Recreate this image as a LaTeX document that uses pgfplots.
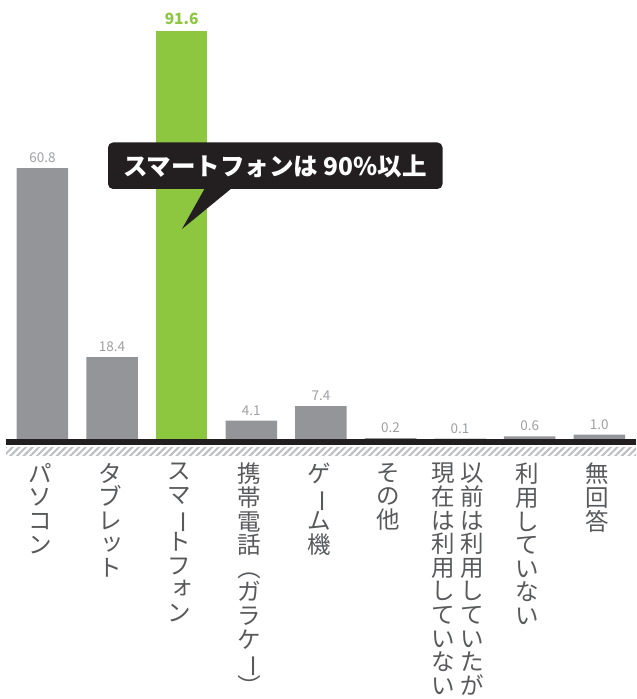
\documentclass[border=0pt]{standalone}
\usepackage{fontspec}
\setmainfont{Noto Sans CJK JP}
\usepackage{graphicx}
\usepackage{pgfplots}
\pgfplotsset{compat=1.18}
\usetikzlibrary{patterns.meta}
\definecolor{bargray}{HTML}{939598}
\definecolor{bargreen}{HTML}{8DC63F}
\definecolor{valgray}{HTML}{9D9FA2}
\definecolor{labelgray}{HTML}{58595B}
\definecolor{hatchgray}{HTML}{BCBEC0}
\definecolor{calloutblack}{HTML}{231F20}
% vertical-writing helpers
\newcommand\LV{\rotatebox[origin=c]{-90}{ー}}
\newcommand\LP{\rotatebox[origin=c]{-90}{（}}
\newcommand\RP{\rotatebox[origin=c]{-90}{）}}
\newcommand\SK[1]{\smash{\raisebox{0.13em}{\hspace*{0.2em}#1}}}
\newcommand\VC[1]{\vbox{\baselineskip=23.6pt\lineskiplimit=-100pt\lineskip=0pt\halign{\hfil##\hfil\cr#1\crcr}}}
\newcommand\LA{\VC{パ\cr ソ\cr コ\cr ン}}
\newcommand\LB{\VC{タ\cr ブ\cr レ\cr \SK{ッ}\cr ト}}
\newcommand\LC{\VC{ス\cr マ\cr \LV\cr ト\cr フ\cr \SK{ォ}\cr ン}}
\newcommand\LD{\VC{携\cr 帯\cr 電\cr 話\cr \LP\cr ガ\cr ラ\cr ケ\cr \LV\cr \RP}}
\newcommand\LE{\VC{ゲ\cr \LV\cr ム\cr 機}}
\newcommand\LF{\VC{そ\cr の\cr 他}}
\newcommand\LG{\vbox{\baselineskip=23.6pt\lineskiplimit=-100pt\lineskip=0pt\halign{\hfil##\hfil&\hskip5.5pt\hfil##\hfil\cr
現&以\cr 在&前\cr は&は\cr 利&利\cr 用&用\cr し&し\cr て&て\cr い&い\cr な&た\cr い&が\crcr}}}
\newcommand\LH{\VC{利\cr 用\cr し\cr て\cr い\cr な\cr い}}
\newcommand\LI{\VC{無\cr 回\cr 答}}
\begin{document}
\begin{tikzpicture}
\begin{axis}[
  scale only axis, width=630pt, height=439pt,
  xmin=-0.524, xmax=8.527, ymin=0, ymax=98.56,
  axis line style={draw=none}, ytick=\empty,
  xtick={0,1,2,3,4,5,6,7,8}, major tick length=0pt,
  xticklabels={\LA,\LB,\LC,\LD,\LE,\LF,\LG,\LH,\LI},
  xticklabel style={font=\fontsize{23.5}{23.6}\selectfont, text=labelgray, inner sep=0pt, anchor=north, yshift=-24pt, xshift=-2pt},
  clip=false,
  /pgf/number format/assume math mode=true,
]
\addplot[ybar, bar width=51.5pt, bar shift=0pt, fill=bargray, draw=none,
  nodes near coords={\pgfmathprintnumber[fixed,fixed zerofill,precision=1]{\pgfplotspointmeta}},
  nodes near coords style={font=\fontsize{13.5}{15}\selectfont, text=valgray, inner sep=0pt, anchor=south, yshift=5pt}]
  coordinates {(0,60.8) (1,18.4) (3,4.1) (4,7.4) (5,0.2) (6,0.1) (7,0.6) (8,1.0)};
\addplot[ybar, bar width=51.5pt, bar shift=0pt, fill=bargreen, draw=none,
  nodes near coords={\pgfmathprintnumber[fixed,fixed zerofill,precision=1]{\pgfplotspointmeta}},
  nodes near coords style={font=\bfseries\fontsize{15.5}{17}\selectfont, text=bargreen, inner sep=0pt, anchor=south, yshift=6pt}]
  coordinates {(2,91.6)};
\draw[line width=6pt, calloutblack] ([yshift=-3pt]rel axis cs:0,0) -- ([yshift=-3pt]rel axis cs:1,0);
\fill[pattern={Lines[angle=45,distance=4.7pt,line width=2pt]}, pattern color=hatchgray] ([yshift=-8pt]rel axis cs:0,0) rectangle ([yshift=-16pt]rel axis cs:1,0);
\coordinate (TL) at (rel axis cs:0,1);
\coordinate (BL) at (rel axis cs:0,0);
\coordinate (TR) at (rel axis cs:1,1);
\end{axis}
\fill[calloutblack, rounded corners=5pt] ([shift={(102pt,-142.5pt)}]TL) rectangle ([shift={(436.5pt,-189pt)}]TL);
\fill[calloutblack] ([shift={(199pt,-188pt)}]TL) -- ([shift={(176pt,-229pt)}]TL) -- ([shift={(226pt,-188pt)}]TL) -- cycle;
\node[text=white, font=\bfseries\fontsize{24.5}{28}\selectfont, inner sep=0pt] at ([shift={(269pt,-166pt)}]TL) {スマートフォンは 90\%以上};
\pgfresetboundingbox
\path ([shift={(-6pt,-260pt)}]BL) rectangle (TR);
\end{tikzpicture}
\end{document}
